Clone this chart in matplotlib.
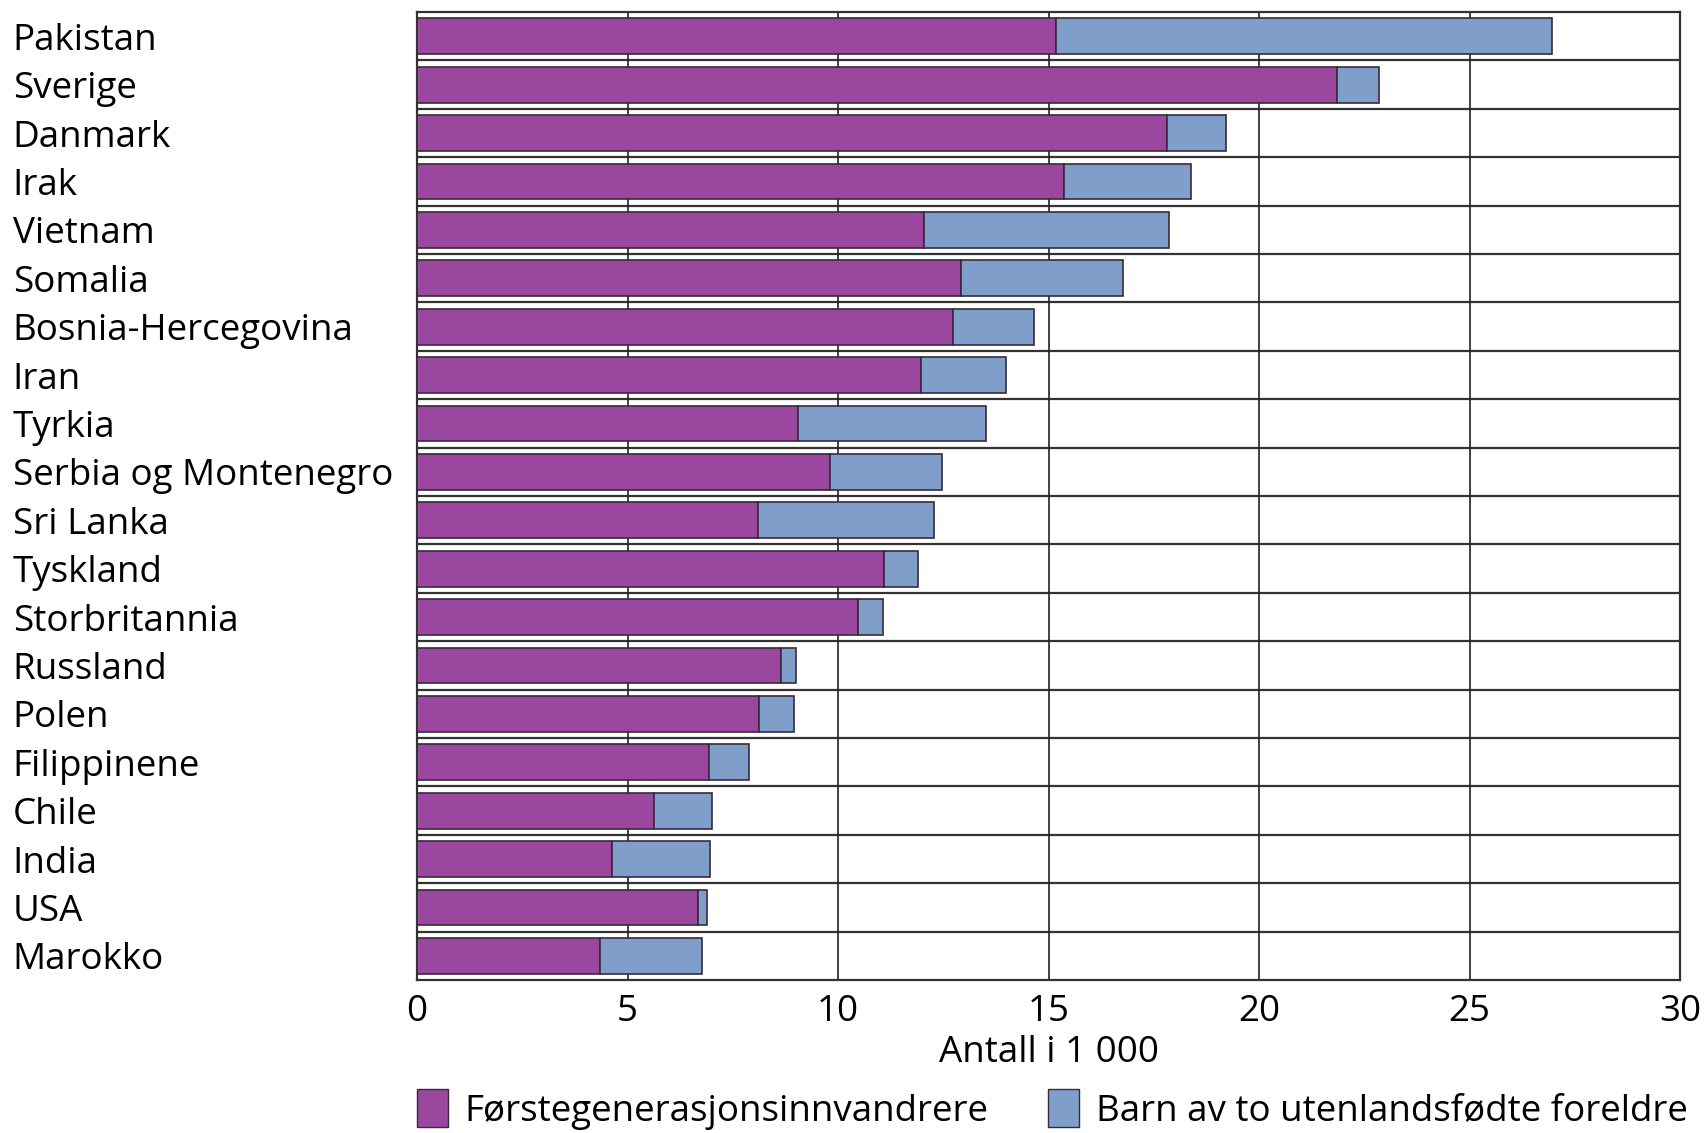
import numpy as np
import matplotlib.pyplot as plt
from matplotlib.patches import Patch

plt.rcParams["font.family"] = ["Open Sans", "DejaVu Sans"]

countries = ["Pakistan", "Sverige", "Danmark", "Irak", "Vietnam", "Somalia",
             "Bosnia-Hercegovina", "Iran", "Tyrkia", "Serbia og Montenegro",
             "Sri Lanka", "Tyskland", "Storbritannia", "Russland", "Polen",
             "Filippinene", "Chile", "India", "USA", "Marokko"]
first_gen = [15.18, 21.85, 17.82, 15.36, 12.05, 12.93, 12.72, 11.97, 9.05, 9.80,
             8.09, 11.09, 10.47, 8.64, 8.12, 6.93, 5.64, 4.63, 6.67, 4.34]
totals = [26.97, 22.86, 19.21, 18.39, 17.87, 16.78, 14.66, 13.99, 13.52, 12.46,
          12.28, 11.90, 11.07, 9.00, 8.95, 7.89, 7.01, 6.96, 6.88, 6.78]
children = [t - f for t, f in zip(totals, first_gen)]

purple = "#9b479f"
blue = "#7f9ec9"
edge = "#3a2a3a"
fs = 26.5

fig = plt.figure(figsize=(17.07, 11.33), dpi=100)
ax = fig.add_axes([0.2443, 0.135, 0.7399, 0.8544])

y = np.arange(len(countries))
ax.barh(y, first_gen, height=0.74, color=purple, edgecolor=edge, linewidth=1.2, zorder=3)
ax.barh(y, children, left=first_gen, height=0.74, color=blue, edgecolor=edge,
        linewidth=1.2, zorder=3)

ax.set_xlim(0, 30)
ax.set_ylim(len(countries) - 0.5, -0.5)
ax.set_xticks(range(0, 31, 5))
ax.set_yticks(y)
ax.set_yticklabels(countries, ha="left", va="center_baseline")
ax.tick_params(axis="y", length=0, pad=291, labelsize=fs)
ax.tick_params(axis="x", length=0, pad=10, labelsize=fs)

# grid: vertical at ticks, horizontal between rows
ax.grid(axis="x", color="#222222", linewidth=1.2, zorder=1)
for b in np.arange(0.5, len(countries) - 0.5, 1):
    ax.axhline(b, color="#333333", linewidth=1.6, zorder=1)
for s in ax.spines.values():
    s.set_color("#333333")
    s.set_linewidth(1.6)

ax.set_xlabel("Antall i 1 000", fontsize=fs, labelpad=4)

handles = [Patch(facecolor=purple, edgecolor=edge, label="Førstegenerasjonsinnvandrere"),
           Patch(facecolor=blue, edgecolor=edge, label="Barn av to utenlandsfødte foreldre")]
fig.legend(handles=handles, loc="lower left", bbox_to_anchor=(0.2443, 0.003), ncol=2,
           frameon=False, fontsize=fs, handlelength=0.85, handleheight=1.2,
           handletextpad=0.45, columnspacing=1.6, borderpad=0, borderaxespad=0)

fig.savefig("out.png", dpi=100)
